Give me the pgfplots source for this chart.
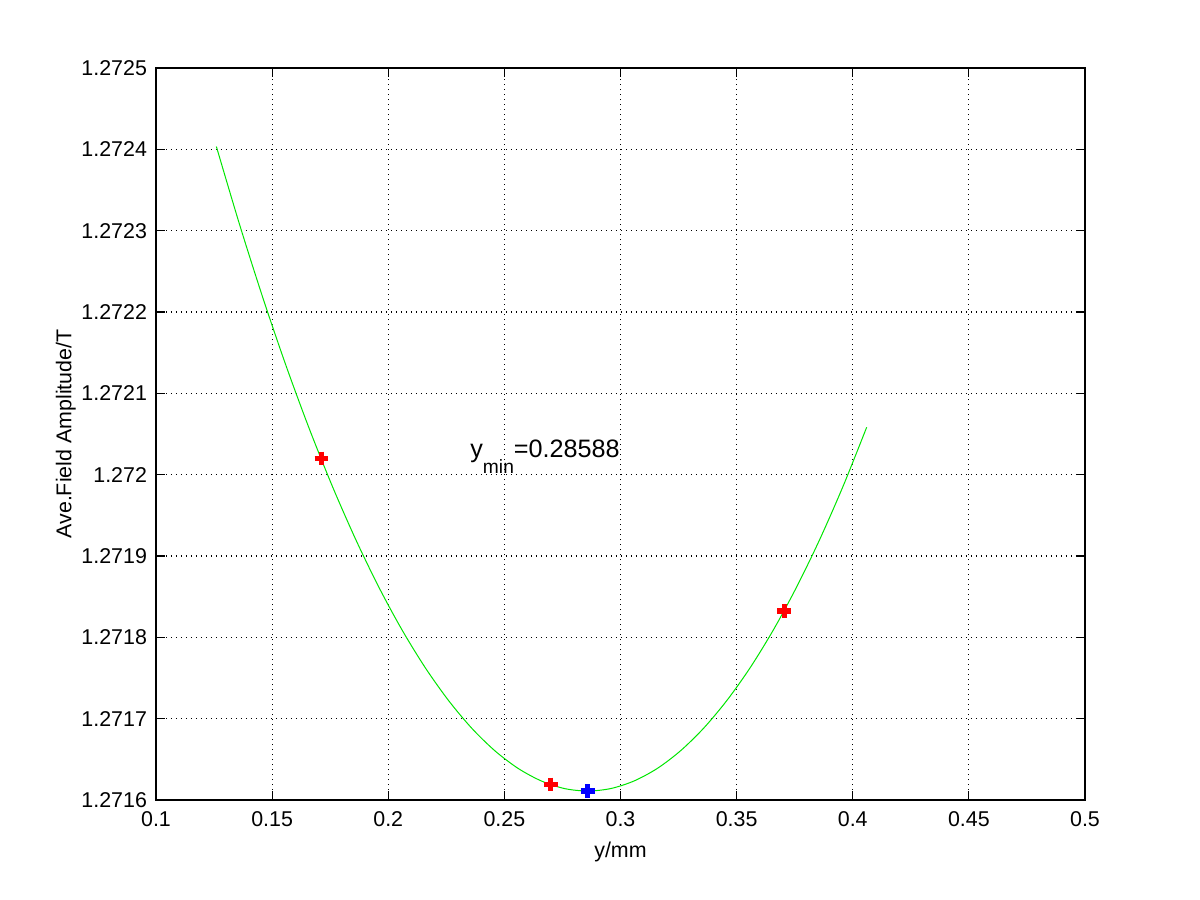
\documentclass[border=0pt]{standalone}
\usepackage{fontspec}
\setmainfont{Liberation Sans}
\usepackage{pgfplots}
\pgfplotsset{compat=1.18}
\begin{document}
\begin{tikzpicture}[x=1pt,y=1pt]
\path[use as bounding box] (-78,-50) rectangle (522,400);
\begin{axis}[
  at={(0,0)}, anchor=south west,
  scale only axis, width=464.5pt, height=366pt,
  xmin=0.1, xmax=0.5, ymin=1.2716, ymax=1.2725,
  xtick={0.1,0.15,0.2,0.25,0.3,0.35,0.4,0.45,0.5},
  ytick={1.2716,1.2717,1.2718,1.2719,1.272,1.2721,1.2722,1.2723,1.2724,1.2725},
  xticklabels={0.1,0.15,0.2,0.25,0.3,0.35,0.4,0.45,0.5},
  yticklabels={1.2716,1.2717,1.2718,1.2719,1.272,1.2721,1.2722,1.2723,1.2724,1.2725},
  scaled x ticks=false, scaled y ticks=false,
  tick align=inside, major tick length=4.5pt,
  xtick pos=both, ytick pos=both,
  axis line style={line width=0.6pt, black},
  every tick/.style={black, line width=0.6pt},
  grid=major, major grid style={black, line width=0.6pt, dash pattern=on 0.6pt off 1.9pt},
  tick label style={font=\fontsize{10.7}{12}\selectfont},
  yticklabel style={xshift=-1pt},
  xticklabel style={yshift=-2pt},
  xlabel={y/mm}, ylabel={Ave.Field Amplitude/T},
  label style={font=\fontsize{10.7}{12}\selectfont},
  xlabel style={yshift=-1pt},
  ylabel style={yshift=-4pt},
  clip=false,
]
\addplot[only marks, mark=+, mark size=3.4pt, red, line width=2.6pt]
  coordinates {(0.1712,1.2720201) (0.2700,1.2716193) (0.3705,1.2718324)};
\addplot[smooth, line width=0.5pt, color={rgb,255:red,0;green,230;blue,0}] coordinates {
(0.126,1.2724034) (0.136,1.2723074) (0.146,1.2722176) (0.156,1.2721339)
(0.166,1.2720565) (0.176,1.2719853) (0.186,1.2719203) (0.196,1.2718614)
(0.206,1.2718088) (0.216,1.2717624) (0.226,1.2717222) (0.236,1.2716881)
(0.246,1.2716603) (0.256,1.2716387) (0.266,1.2716233) (0.276,1.2716140)
(0.286,1.2716110) (0.296,1.2716142) (0.306,1.2716236) (0.316,1.2716391)
(0.326,1.2716609) (0.336,1.2716889) (0.346,1.2717231) (0.356,1.2717634)
(0.366,1.2718100) (0.376,1.2718628) (0.386,1.2719217) (0.396,1.2719869)
(0.406,1.2720583)};
\addplot[only marks, mark=+, mark size=3.4pt, blue, line width=2.6pt]
  coordinates {(0.2859,1.2716111)};
\node[anchor=base west, inner sep=0pt, font=\fontsize{12.6}{14}\selectfont]
  at (axis cs:0.2352,1.2720205) {y\raisebox{-8pt}{\fontsize{9.6}{11}\selectfont min}=0.28588};
\end{axis}
\end{tikzpicture}
\end{document}
